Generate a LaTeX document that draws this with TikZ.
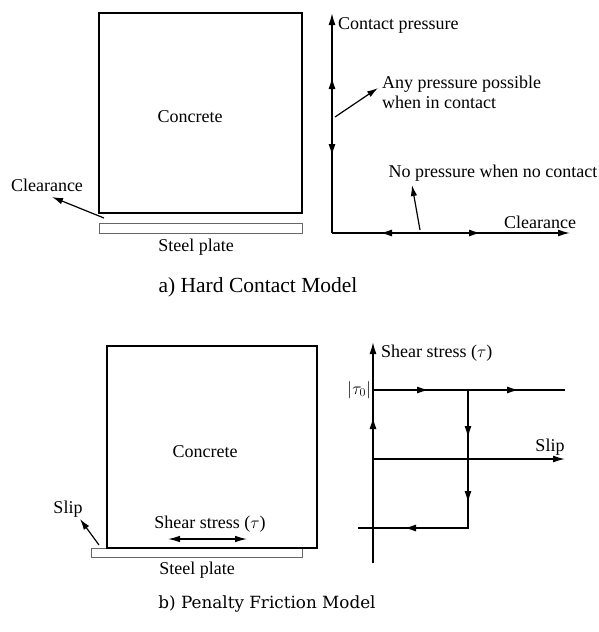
\documentclass[tikz,border=0pt]{standalone}
\usepackage{fontspec}
\setmainfont{Liberation Serif}
\newfontfamily\capbfont{DejaVu Serif}
\usetikzlibrary{arrows.meta}
\begin{document}
\begin{tikzpicture}[x=1pt,y=-1pt,
  lbl/.style={font=\fontsize{18}{20}\selectfont, inner sep=0pt},
  capa/.style={font=\fontsize{21.5}{24}\selectfont, inner sep=0pt},
  capb/.style={font=\capbfont\fontsize{16.8}{20}\selectfont, inner sep=0pt},
  box/.style={draw, line width=2.2pt},
  plate/.style={draw=black!60, line width=0.9pt},
  ax/.style={line width=1.5pt},
  tip/.style={-{Latex[length=12pt,width=7pt]}},
  thin/.style={line width=1.2pt, -{Latex[length=11pt,width=6.5pt]}}]
\useasboundingbox (0,0) rectangle (598,632);

% ---------- a) hard contact ----------
\draw[box] (99,13) rectangle (302,213);
\node[lbl] (conA) at (190,117) {Concrete};
\draw[plate] (99,223) rectangle (302,233);
\node[lbl] (steelA) at (196,247) {Steel plate};
\node[lbl] (clrA) at (47,185) {Clearance};
\coordinate (gapA) at (104,218);
\coordinate (clrTip) at (52,197);
\draw[thin] (gapA) -- (clrTip);

% graph a
\coordinate (oA) at (332,233);
\coordinate (yA) at (332,13);
\coordinate (xA) at (570,233);
\draw[ax,tip] (oA) -- (yA);
\draw[ax,tip] (oA) -- (xA);
\draw[ax,tip] (332,95) -- (332,77);
\draw[ax,tip] (332,140) -- (332,156);
\draw[ax,tip] (400,233) -- (380,233);
\draw[ax,tip] (460,233) -- (481,233);
\node[lbl, anchor=west] (cp) at (338,25) {Contact pressure};
\node[lbl, anchor=north west, align=left] (any) at (382,76) {Any pressure possible\\when in contact};
\coordinate (anyFrom) at (335,117);
\coordinate (anyTip) at (378,88);
\draw[thin] (anyFrom) -- (anyTip);
\node[lbl] (nop) at (493,173) {No pressure when no contact};
\coordinate (nopFrom) at (420,230);
\coordinate (nopTip) at (412,185);
\draw[thin] (nopFrom) -- (nopTip);
\node[lbl] (clrAx) at (540,222) {Clearance};

\node[capa] (capA) at (258,287) {a) Hard Contact Model};

% ---------- b) penalty friction ----------
\draw[plate] (91,548) rectangle (302,557);
\draw[box] (107,548) -- (107,346) -- (317,346) -- (317,548) -- cycle;
\node[lbl] (conB) at (205,452) {Concrete};
\node[lbl] (steelB) at (197,570) {Steel plate};
\node[lbl] (slipB) at (68,509) {Slip};
\coordinate (gapB) at (99,545);
\coordinate (slipTip) at (80,519);
\draw[thin] (gapB) -- (slipTip);
\node[lbl] (shB) at (210,524) {Shear stress ($\tau$)};
\coordinate (shL) at (168,539);
\coordinate (shR) at (247,539);
\draw[line width=1.2pt, {Latex[length=12pt,width=6.5pt]}-{Latex[length=12pt,width=6.5pt]}] (shL) -- (shR);

% graph b
\coordinate (oB) at (373,563);
\coordinate (yB) at (373,342);
\coordinate (t0L) at (373,390);
\coordinate (t0R) at (565,390);
\coordinate (vT) at (468,390);
\coordinate (vB) at (468,528);
\coordinate (bL) at (358,528);
\coordinate (sL) at (373,459);
\coordinate (sR) at (565,459);
\draw[ax,tip] (oB) -- (yB);
\draw[ax] (t0L) -- (t0R);
\draw[ax] (vT) -- (vB) -- (bL);
\draw[ax,tip] (sL) -- (sR);
\draw[ax,tip] (412,390) -- (429,390);
\draw[ax,tip] (502,390) -- (519,390);
\draw[ax,tip] (468,422) -- (468,438);
\draw[ax,tip] (468,486) -- (468,503);
\draw[ax,tip] (373,432) -- (373,417);
\draw[ax,tip] (420,528) -- (404,528);
\node[lbl, anchor=west] (ssAx) at (381,353) {Shear stress ($\tau$)};
\node[lbl, anchor=east] (tau0) at (371,390) {$|\tau_0|$};
\node[lbl] (slipAx) at (550,447) {Slip};

\node[capb] (capB) at (267,604) {b) Penalty Friction Model};
\end{tikzpicture}
\end{document}
